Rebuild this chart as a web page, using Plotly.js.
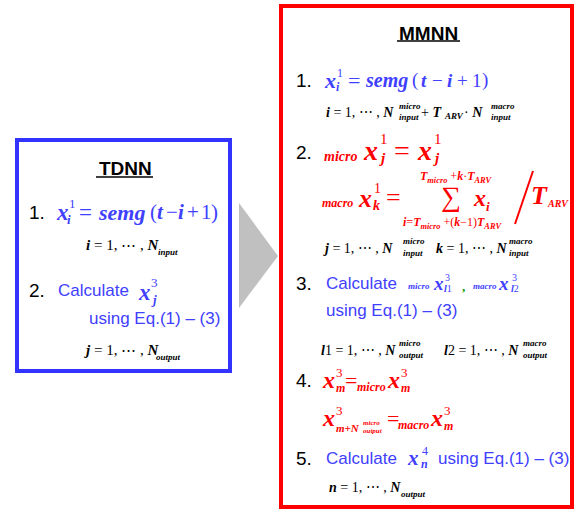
<!DOCTYPE html>
<html><head><meta charset="utf-8">
<script src="https://cdn.plot.ly/plotly-3.0.1.min.js"></script>
<style>html,body{margin:0;padding:0;background:#fff}#chart{width:575px;height:510px}</style>
</head><body><div id="chart"></div>
<script>
// ---- text content ----
const boxTitles = ["TDNN", "MMNN"];
const stepNumbers = ["1.", "2.", "3.", "4.", "5."];
const calcWord = "Calculate";
const eqRef = "using Eq.(1) \u2013 (3)";
const scaleWords = ["micro", "macro"];
const ioWords = ["input", "output"];
const arvWord = "ARV";
const rangeText = " = 1, \u22ef , ";
const semgParts = ["semg", "(", "t", "\u2212", "i", "+", "1", ")"];
const semgItalic = [true, false, true, false, true, false, false, false];

const SERIF = "Liberation Serif, Times New Roman, serif";
const SANS = "Liberation Sans, Arial, sans-serif";
const BLUE = "#4040ff", RED = "#ff0000", BLACK = "#000000", GREEN = "#009900";
const ann = [];
function T(x, y, text, size, color, family, anchor) {
  ann.push({x: x, y: y, xref: 'x', yref: 'y', text: text, showarrow: false,
    xanchor: anchor || 'left', yanchor: 'middle', borderpad: 0,
    font: {family: family || SERIF, size: size, color: color || BLACK}});
}
function M(s) { return '<b><i>' + s + '</i></b>'; }
function semg(xs, y, size, color) {
  semgParts.forEach(function (p, k) {
    T(xs[k], y, semgItalic[k] ? M(p) : p, k === 0 ? size : size - 1, color);
  });
}

// ---- TDNN ----
T(125, 168, '<b>' + boxTitles[0] + '</b>', 19, BLACK, SANS, 'center');
T(28, 212, stepNumbers[0], 19, BLACK, SANS);
T(55, 212, M('x'), 23, BLUE); T(68, 203, '1', 13, BLUE); T(66, 219, M('i'), 13, BLUE);
T(78, 212, '=', 23, BLUE);
semg([97, 149, 156, 165, 177, 186, 200, 210], 212, 22, BLUE);
T(85, 245, M('i') + rangeText + M('N'), 15); T(157, 252, M(ioWords[0]), 9);
T(28, 290, stepNumbers[1], 19, BLACK, SANS);
T(57, 290, calcWord, 17, BLUE, SANS);
T(137, 292, M('x'), 23, BLUE); T(150, 282, '3', 13, BLUE); T(150, 299, M('j'), 13, BLUE);
T(88, 318, eqRef, 17, BLUE, SANS);
T(83, 350, M('j') + rangeText + M('N'), 15); T(155, 357, M(ioWords[1]), 9);

// ---- MMNN ----
T(428, 33, '<b>' + boxTitles[1] + '</b>', 19, BLACK, SANS, 'center');
T(295, 80, stepNumbers[0], 19, BLACK, SANS);
T(323, 80, M('x'), 22, BLUE); T(336, 73, '1', 12, BLUE); T(335, 87, M('i'), 12, BLUE);
T(347, 80, '=', 22, BLUE);
semg([364, 411, 420, 431, 446, 456, 471, 481], 80, 20, BLUE);
T(325, 112, M('i') + rangeText + M('N'), 14);
T(398, 106, M(scaleWords[0]), 9); T(398, 117, M(ioWords[0]), 9);
T(420, 112, '+ ' + M('T'), 14); T(443, 116, M(arvWord), 9);
T(463, 112, '\u00b7 ' + M('N'), 14);
T(490, 106, M(scaleWords[1]), 9); T(490, 117, M(ioWords[0]), 9);

T(295, 152, stepNumbers[1], 19, BLACK, SANS);
T(323, 156, M(scaleWords[0]), 14, RED);
T(362, 150, M('x'), 28, RED); T(379, 139, '1', 15, RED); T(378, 158, M('j'), 15, RED);
T(393, 150, '=', 28, RED);
T(416, 150, M('x'), 28, RED); T(433, 139, '1', 15, RED); T(432, 158, M('j'), 15, RED);

T(321, 203, M(scaleWords[1]), 12, RED);
T(357, 198, M('x'), 26, RED); T(373, 188, '1', 14, RED); T(372, 205, M('k'), 14, RED);
T(385, 197, '=', 26, RED);
T(419, 177, M('T') + '<sub>' + M(scaleWords[0]) + '</sub> +' + M('k') + '\u00b7' + M('T') + '<sub>' + M(arvWord) + '</sub>', 12, RED);
T(451, 196, '\u2211', 28, RED, SERIF, 'center');
T(472, 198, M('x'), 24, RED); T(485, 206, M('i'), 13, RED);
T(402, 223, M('i') + '=' + M('T') + '<sub>' + M(scaleWords[0]) + '</sub> +(' + M('k') + '\u22121)' + M('T') + '<sub>' + M(arvWord) + '</sub>', 12, RED);
T(530, 195, M('T'), 26, RED); T(546, 203, M(arvWord), 10, RED);

T(322, 248, M('j') + rangeText + M('N'), 14);
T(402, 241, M(scaleWords[0]), 9); T(402, 253, M(ioWords[0]), 9);
T(435, 248, M('k') + rangeText + M('N'), 14);
T(508, 241, M(scaleWords[1]), 9); T(508, 253, M(ioWords[0]), 9);

T(295, 283, stepNumbers[2], 19, BLACK, SANS);
T(325, 283, calcWord, 17, BLUE, SANS);
T(407, 286, M(scaleWords[0]), 9, BLUE);
T(432, 283, M('x'), 19, BLUE); T(444, 277, '3', 10, BLUE); T(443, 288, M('l') + '1', 10, BLUE);
T(461, 286, '<b>,</b>', 13, GREEN);
T(472, 286, M(scaleWords[1]), 9, BLUE);
T(497, 283, M('x'), 19, BLUE); T(511, 277, '3', 10, BLUE); T(510, 288, M('l') + '2', 10, BLUE);
T(325, 310, eqRef, 17, BLUE, SANS);

T(320, 350, M('l') + '1' + rangeText + M('N'), 14);
T(398, 343, M(scaleWords[0]), 9); T(398, 355, M(ioWords[1]), 9);
T(443, 350, M('l') + '2' + rangeText + M('N'), 14);
T(522, 343, M(scaleWords[1]), 9); T(522, 355, M(ioWords[1]), 9);

T(295, 380, stepNumbers[3], 19, BLACK, SANS);
T(321, 380, M('x'), 24, RED); T(335, 372, '3', 13, RED); T(335, 388, M('m'), 12, RED);
T(344, 380, '=', 22, RED); T(356, 387, M(scaleWords[0]), 12, RED);
T(386, 380, M('x'), 24, RED); T(400, 372, '3', 13, RED); T(400, 388, M('m'), 12, RED);
T(321, 418, M('x'), 24, RED); T(335, 410, '3', 13, RED); T(335, 428, M('m+N'), 11, RED);
T(362, 423, M(scaleWords[0]), 7, RED); T(362, 431, M(ioWords[1]), 7, RED);
T(386, 418, '=', 22, RED); T(397, 425, M(scaleWords[1]), 12, RED);
T(429, 418, M('x'), 24, RED); T(443, 410, '3', 13, RED); T(443, 426, M('m'), 12, RED);

T(295, 458, stepNumbers[4], 19, BLACK, SANS);
T(325, 458, calcWord, 17, BLUE, SANS);
T(406, 458, M('x'), 21, BLUE); T(421, 451, '4', 12, BLUE); T(420, 464, M('n'), 12, BLUE);
T(437, 458, eqRef, 17, BLUE, SANS);
T(328, 487, M('n') + rangeText + M('N'), 14); T(400, 494, M(ioWords[1]), 9);

const shapes = [
  {type: 'rect', xref: 'x', yref: 'y', x0: 17, x1: 230, y0: 140, y1: 371, line: {color: '#3333ff', width: 4}},
  {type: 'rect', xref: 'x', yref: 'y', x0: 281, x1: 572, y0: 6, y1: 507, line: {color: '#ff0000', width: 4}},
  {type: 'path', xref: 'x', yref: 'y', path: 'M239,203 L278,256 L239,308 Z', fillcolor: '#c0c0c0', line: {width: 0}},
  {type: 'line', xref: 'x', yref: 'y', x0: 96, x1: 153, y0: 177, y1: 177, line: {color: '#000', width: 1.5}},
  {type: 'line', xref: 'x', yref: 'y', x0: 397, x1: 460, y0: 41, y1: 41, line: {color: '#000', width: 1.5}},
  {type: 'line', xref: 'x', yref: 'y', x0: 515, x1: 533, y0: 224, y1: 171, line: {color: RED, width: 2}}
];

Plotly.newPlot('chart', [], {
  width: 575, height: 510, margin: {l: 0, r: 0, t: 0, b: 0},
  paper_bgcolor: '#fff', plot_bgcolor: '#fff', showlegend: false,
  xaxis: {range: [0, 575], visible: false, fixedrange: true},
  yaxis: {range: [510, 0], visible: false, fixedrange: true},
  annotations: ann, shapes: shapes
}, {displayModeBar: false, staticPlot: true});
</script></body></html>
